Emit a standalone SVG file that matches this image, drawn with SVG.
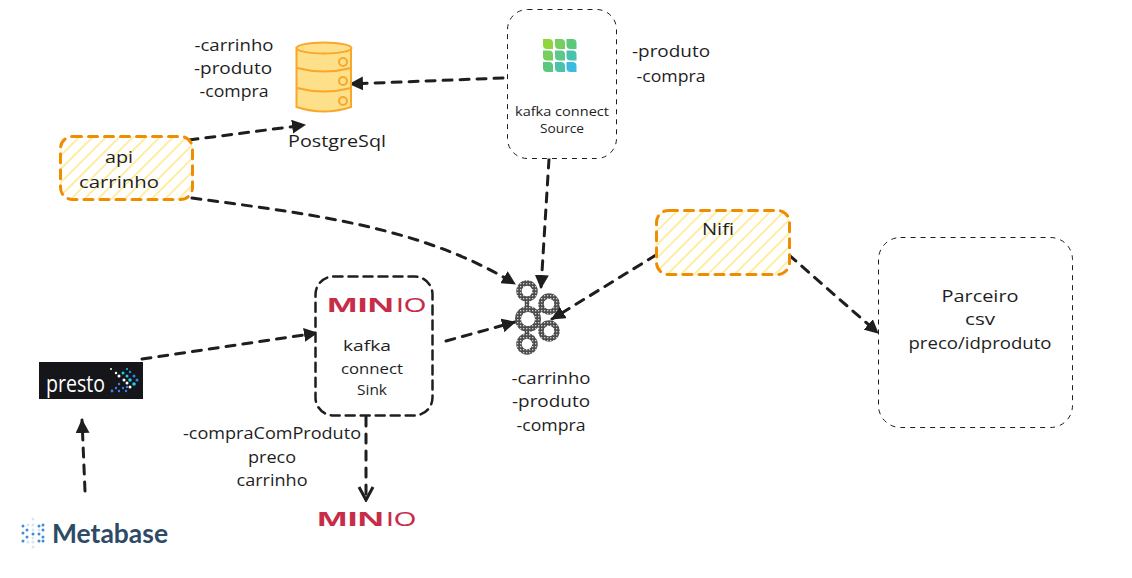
<svg xmlns="http://www.w3.org/2000/svg" width="1132" height="578" viewBox="0 0 1132 578">
<style>
.t{font-family:"Open Sans","Noto Sans",sans-serif;font-size:16px;fill:#1e1e1e;text-anchor:middle}
.s{font-size:12.5px}
.m{font-size:15px}
.c{fill:none;stroke:#1e1e1e;stroke-width:3;stroke-dasharray:9 8;stroke-linecap:round;marker-end:url(#a)}
.thin{fill:#fff;stroke:#1e1e1e;stroke-width:1;stroke-dasharray:5 5}
.hatch{fill:url(#h);stroke:#f08c00;stroke-width:3;stroke-dasharray:9 7;stroke-linecap:round}
.ring{fill:#fff;stroke:url(#d)}
.db{fill:#ffe08a;stroke:#f9a72b;stroke-width:2}
.dbl{fill:none;stroke:#f9a72b;stroke-width:2}
.min{font-family:"Liberation Sans",sans-serif;fill:#c72c48}
</style>
<defs>
<marker id="a" markerUnits="userSpaceOnUse" markerWidth="16" markerHeight="14" refX="13" refY="7" orient="auto"><path d="M0 0L14 7L0 14Z" fill="#1e1e1e"/></marker>
<marker id="o" markerUnits="userSpaceOnUse" markerWidth="16" markerHeight="18" refX="14" refY="9" orient="auto"><path d="M1 2L14 9L1 16" fill="none" stroke="#1e1e1e" stroke-width="3"/></marker>
<pattern id="h" width="9.500" height="9.500" patternUnits="userSpaceOnUse" patternTransform="rotate(45)"><rect width="9.500" height="9.500" fill="#fff"/><rect width="1.800" height="9.500" fill="#ffec99"/></pattern>
<pattern id="d" width="3" height="3" patternUnits="userSpaceOnUse"><rect width="3" height="3" fill="#4d4d4d"/><rect x="1" y="1" width="1.300" height="1.300" fill="#d0d0d0"/></pattern>
<path id="lf" d="M0 0H6Q10 0 10 4V10H4Q0 10 0 6Z"/>
</defs>
<rect width="1132" height="578" fill="#fff"/>

<g id="connectors">
<path class="c" d="M189 140L305 125"/>
<path class="c" d="M503 78L350 84"/>
<path class="c" d="M549 159L541 288"/>
<path class="c" d="M192 198C300 213 420 225 515 284"/>
<path class="c" d="M656 255L552 319"/>
<path class="c" d="M446 341L515 322"/>
<path class="c" d="M789 255L878 333"/>
<path class="c" d="M142 359L317 333"/>
<path class="c" d="M85 491L82 420"/>
<path class="c" style="marker-end:url(#o)" d="M366 417L366 500"/>
</g>

<g id="postgres">
<path class="db" d="M296.500 48V107Q324 116 351 107V48Z"/>
<ellipse class="db" cx="324" cy="48" rx="27.500" ry="5.500"/>
<path class="dbl" d="M297 68Q324 75 351 68M297 88Q324 95 351 88"/>
<g class="dbl"><circle cx="343" cy="62" r="4"/><circle cx="343" cy="81" r="4"/><circle cx="343" cy="101" r="4"/></g>
<text class="t" x="337" y="147" textLength="98" lengthAdjust="spacingAndGlyphs">PostgreSql</text>
</g>
<g id="postgres-topics">
<text class="t" x="234" y="51" textLength="79" lengthAdjust="spacingAndGlyphs">-carrinho</text>
<text class="t" x="233" y="74" textLength="78" lengthAdjust="spacingAndGlyphs">-produto</text>
<text class="t" x="234" y="97" textLength="69" lengthAdjust="spacingAndGlyphs">-compra</text>
</g>

<g id="kafka-connect-source">
<rect class="thin" x="507.500" y="9.500" width="109" height="149" rx="20"/>
<use href="#lf" fill="#8fd63c" x="543" y="39"/><use href="#lf" fill="#74cf5e" x="555" y="39"/><use href="#lf" fill="#5cc87c" x="566.500" y="39"/>
<use href="#lf" fill="#74cf5e" x="543" y="50.500"/><use href="#lf" fill="#5cc88c" x="555" y="50.500"/><use href="#lf" fill="#4ac2ac" x="566.500" y="50.500"/>
<use href="#lf" fill="#5cc87c" x="543" y="62"/><use href="#lf" fill="#4ac2ac" x="555" y="62"/><use href="#lf" fill="#3cbae4" x="566.500" y="62"/>
<text class="t s" x="562" y="116" textLength="94" lengthAdjust="spacingAndGlyphs">kafka connect</text>
<text class="t s" x="562" y="133" textLength="44" lengthAdjust="spacingAndGlyphs">Source</text>
</g>
<g id="source-topics">
<text class="t" x="671" y="57" textLength="78" lengthAdjust="spacingAndGlyphs">-produto</text>
<text class="t" x="671" y="82" textLength="69" lengthAdjust="spacingAndGlyphs">-compra</text>
</g>

<g id="api-carrinho">
<rect class="hatch" x="60.500" y="136.500" width="132" height="63" rx="12"/>
<text class="t" x="119" y="163" textLength="28" lengthAdjust="spacingAndGlyphs">api</text>
<text class="t" x="119" y="188" textLength="80" lengthAdjust="spacingAndGlyphs">carrinho</text>
</g>

<g id="nifi">
<rect class="hatch" x="656.500" y="210.500" width="133" height="64" rx="12"/>
<text class="t" x="718" y="235" textLength="32" lengthAdjust="spacingAndGlyphs">Nifi</text>
</g>

<g id="parceiro">
<rect class="thin" x="878.500" y="237.500" width="194" height="190" rx="22"/>
<text class="t" x="980" y="302" textLength="77" lengthAdjust="spacingAndGlyphs">Parceiro</text>
<text class="t" x="980" y="325" textLength="30" lengthAdjust="spacingAndGlyphs">csv</text>
<text class="t" x="980" y="349" textLength="143" lengthAdjust="spacingAndGlyphs">preco/idproduto</text>
</g>

<g id="kafka-connect-sink">
<rect x="315.500" y="276.500" width="117" height="139" rx="18" fill="#fff" stroke="#1e1e1e" stroke-width="2.500" stroke-dasharray="9 6" stroke-linecap="round"/>
<text class="min" x="327" y="312" font-size="20" font-weight="bold" textLength="67" lengthAdjust="spacingAndGlyphs">MIN</text>
<text class="min" x="396" y="312" font-size="20" textLength="30" lengthAdjust="spacingAndGlyphs">IO</text>
<text class="t m" x="367" y="351" textLength="48" lengthAdjust="spacingAndGlyphs">kafka</text>
<text class="t m" x="372" y="374" textLength="62" lengthAdjust="spacingAndGlyphs">connect</text>
<text class="t m" x="372" y="395" textLength="30" lengthAdjust="spacingAndGlyphs">Sink</text>
</g>

<g id="kafka">
<path d="M527 291V344M528 319L549 304M528 319L549 331" stroke="url(#d)" stroke-width="4.500" fill="none"/>
<circle class="ring" cx="528" cy="319" r="10" stroke-width="6"/>
<circle class="ring" cx="527" cy="291" r="8" stroke-width="5.500"/>
<circle class="ring" cx="549" cy="304" r="8" stroke-width="5.500"/>
<circle class="ring" cx="549" cy="331" r="8" stroke-width="5.500"/>
<circle class="ring" cx="527" cy="344" r="8" stroke-width="5.500"/>
</g>
<g id="kafka-topics">
<text class="t" x="551" y="384" textLength="79" lengthAdjust="spacingAndGlyphs">-carrinho</text>
<text class="t" x="551" y="407" textLength="78" lengthAdjust="spacingAndGlyphs">-produto</text>
<text class="t" x="551" y="431" textLength="69" lengthAdjust="spacingAndGlyphs">-compra</text>
</g>

<g id="presto">
<rect x="39" y="362" width="104" height="37" fill="#14161a"/>
<text x="46" y="392" font-family="Open Sans, sans-serif" font-size="24" fill="#fff" textLength="59" lengthAdjust="spacingAndGlyphs">presto</text>
<g fill="#fff"><circle cx="111" cy="369" r="1"/><circle cx="116" cy="373" r="1.200"/><circle cx="119" cy="376" r="1.500"/><circle cx="124" cy="380" r="1.500"/><circle cx="127" cy="383" r="1.500"/><circle cx="130" cy="387" r="1.500"/></g>
<g fill="#22c8e8"><circle cx="123" cy="373" r="1.500"/><circle cx="127" cy="376" r="1.500"/><circle cx="130" cy="380" r="1.800"/><circle cx="134" cy="384" r="1.800"/><circle cx="127" cy="369" r="1"/></g>
<g fill="#3f7fe8"><circle cx="130" cy="372" r="1.200"/><circle cx="134" cy="376" r="1.500"/><circle cx="137" cy="380" r="1.500"/><circle cx="119" cy="384" r="1.200"/><circle cx="123" cy="388" r="1.200"/><circle cx="112" cy="391" r="1.400"/><circle cx="116" cy="388" r="1.200"/><circle cx="119" cy="391" r="1.200"/><circle cx="127" cy="387" r="1.200"/><circle cx="126" cy="391" r="1.200"/></g>
</g>

<g id="metabase">
<g fill="#3d8ddd"><circle cx="23" cy="526" r="1.500"/><circle cx="23" cy="533" r="1.500"/><circle cx="23" cy="541" r="1.500"/><circle cx="27" cy="530" r="1.500"/><circle cx="27" cy="537" r="1.500"/><circle cx="33" cy="534" r="1.500"/><circle cx="39" cy="526" r="1.500"/><circle cx="39" cy="534" r="1.500"/><circle cx="39" cy="541" r="1.500"/><circle cx="43" cy="525" r="1.500"/><circle cx="43" cy="530" r="1.500"/><circle cx="43" cy="537" r="1.500"/><circle cx="43" cy="541" r="1.500"/></g>
<g fill="#d7e7f7"><circle cx="33" cy="519" r="1.500"/><circle cx="28" cy="525" r="1.500"/><circle cx="33" cy="525" r="1.500"/><circle cx="33" cy="530" r="1.500"/><circle cx="39" cy="530" r="1.500"/><circle cx="33" cy="538" r="1.500"/><circle cx="28" cy="542" r="1.500"/><circle cx="33" cy="542" r="1.500"/><circle cx="33" cy="547" r="1.500"/></g>
<text x="52" y="543" font-family="Lato, sans-serif" font-size="27" font-weight="bold" fill="#2e4a66" textLength="116" lengthAdjust="spacingAndGlyphs">Metabase</text>
</g>

<g id="sink-topics">
<text class="t" x="272" y="439" textLength="178" lengthAdjust="spacingAndGlyphs">-compraComProduto</text>
<text class="t" x="272" y="463" textLength="48" lengthAdjust="spacingAndGlyphs">preco</text>
<text class="t" x="272" y="486" textLength="71" lengthAdjust="spacingAndGlyphs">carrinho</text>
</g>

<g id="minio">
<text class="min" x="317" y="526" font-size="20" font-weight="bold" textLength="67" lengthAdjust="spacingAndGlyphs">MIN</text>
<text class="min" x="386" y="526" font-size="20" textLength="30" lengthAdjust="spacingAndGlyphs">IO</text>
</g>
</svg>
